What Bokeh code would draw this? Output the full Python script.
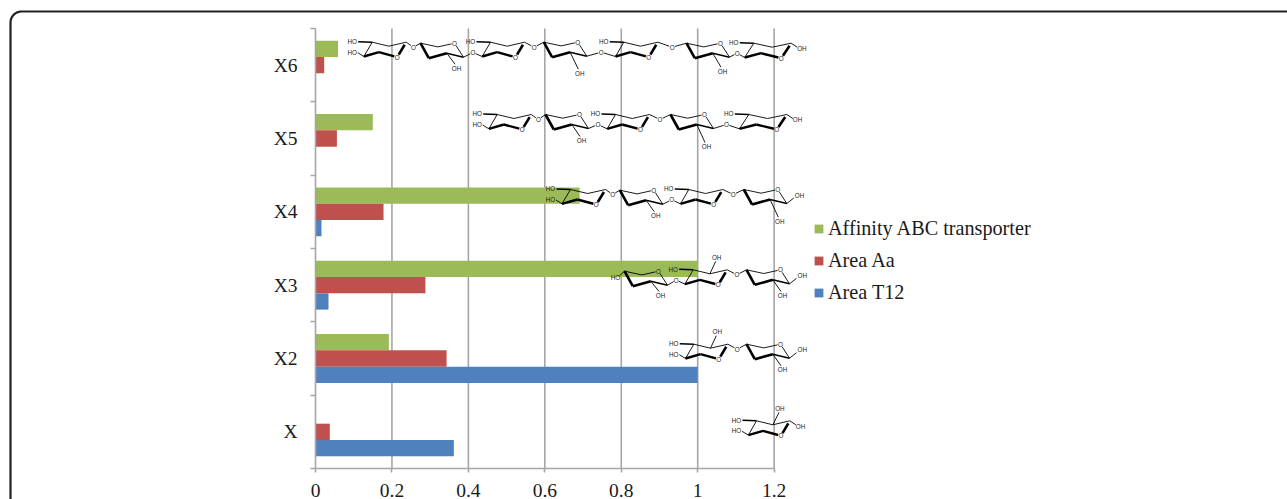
import math
from bokeh.plotting import figure
from bokeh.models import (Range1d, FixedTicker, Legend, LegendItem, ColumnDataSource)
from bokeh.embed import file_html
from bokeh.resources import INLINE
from bokeh.core.properties import value

# ---------- chart data ----------
categories = ["X", "X2", "X3", "X4", "X5", "X6"]
affinity = [0.0, 0.192, 1.0, 0.691, 0.150, 0.059]
area_aa = [0.0375, 0.343, 0.2876, 0.178, 0.056, 0.0227]
area_t12 = [0.362, 1.0, 0.034, 0.0157, 0.0, 0.0]
x_ticks = [0, 0.2, 0.4, 0.6, 0.8, 1, 1.2]
x_tick_labels = ["0", "0.2", "0.4", "0.6", "0.8", "1", "1.2"]

GREEN, RED, BLUE = "#9BBB59", "#C0504D", "#4F81BD"
GRID = "#a6a6a6"
INK = "#1a1a1a"

# ---------- layout of the plot area (page pixels) ----------
W, H = 1287, 499
LEFT, TOP, BOTTOM = 315, 28, 468
PX_PER_X = 382.2
PX_PER_Y = (BOTTOM - TOP) / 6
BAR_H = 16.3 / PX_PER_Y


def xd(px):
    return (px - LEFT) / PX_PER_X


def yd(py):
    return (BOTTOM - py) / PX_PER_Y


p = figure(width=W, height=H, output_backend="svg", toolbar_location=None,
           x_range=Range1d(xd(0), xd(W)), y_range=Range1d(yd(H), yd(0)),
           min_border=0, min_border_left=0, min_border_right=0,
           min_border_top=0, min_border_bottom=0)
p.outline_line_color = None
p.background_fill_color = "white"
p.border_fill_color = "white"

# outer rounded card (open at the right and at the bottom)
CARD_X, CARD_Y, CARD_R = 10, 11, 11
card_px = [(CARD_X, H + 10)]
for k in range(9):
    t = math.pi + k / 8 * math.pi / 2
    card_px.append((CARD_X + CARD_R + CARD_R * math.cos(t),
                    CARD_Y + CARD_R + CARD_R * math.sin(t)))
card_px.append((W, CARD_Y))
p.line([xd(a) for a, _ in card_px], [yd(b) for _, b in card_px],
       line_color="#231f20", line_width=2.2)

# axes
ax = p.xaxis[0]
ax.fixed_location = 0
ax.ticker = FixedTicker(ticks=x_ticks)
ax.major_label_overrides = {t: l for t, l in zip(x_ticks, x_tick_labels)}
ax.bounds = (0, 1.2)
ax.axis_line_color = GRID
ax.axis_line_width = 1.6
ax.major_tick_line_color = GRID
ax.major_tick_line_width = 1.6
ax.major_tick_out = 4
ax.major_tick_in = 0
ax.minor_tick_line_color = None
ax.major_label_text_font = "Liberation Serif"
ax.major_label_text_font_size = "19.5px"
ax.major_label_text_color = INK
ax.major_label_standoff = 11

centers = [i + 0.5 for i in range(len(categories))]
ay = p.yaxis[0]
ay.fixed_location = 0
ay.ticker = FixedTicker(ticks=centers, minor_ticks=list(range(len(categories) + 1)))
ay.major_label_overrides = {c: l for c, l in zip(centers, categories)}
ay.bounds = (0, 6)
ay.axis_line_color = GRID
ay.axis_line_width = 1.6
ay.major_tick_line_color = None
ay.major_tick_out = 0
ay.major_tick_in = 0
ay.minor_tick_line_color = GRID
ay.minor_tick_line_width = 1.6
ay.minor_tick_out = 5
ay.minor_tick_in = 0
ay.major_label_text_font = "Liberation Serif"
ay.major_label_text_font_size = "19.5px"
ay.major_label_text_color = INK
ay.major_label_standoff = 13

# vertical gridlines stop at the axis ends
p.grid.visible = False
grid_xs = x_ticks[1:]
p.segment(x0=grid_xs, x1=grid_xs, y0=[0] * len(grid_xs), y1=[len(categories)] * len(grid_xs),
          line_color=GRID, line_width=1.6)

# bars
r_g = p.hbar(y=[c + BAR_H for c in centers], right=affinity, left=0, height=BAR_H,
             color=GREEN, line_color=None)
r_r = p.hbar(y=centers, right=area_aa, left=0, height=BAR_H,
             color=RED, line_color=None)
r_b = p.hbar(y=[c - BAR_H for c in centers], right=area_t12, left=0, height=BAR_H,
             color=BLUE, line_color=None)

legend = Legend(items=[LegendItem(label="Affinity ABC transporter", renderers=[r_g]),
                       LegendItem(label="Area Aa", renderers=[r_r]),
                       LegendItem(label="Area T12", renderers=[r_b])],
                location=(813, 195), orientation="vertical",
                glyph_width=11, glyph_height=11, label_height=20, spacing=9,
                padding=0, margin=0, label_standoff=4,
                border_line_color=None, background_fill_alpha=0,
                label_text_font="Liberation Serif", label_text_font_size="20.2px",
                label_text_color=INK)
p.add_layout(legend)

# ---------- sugar structure drawings (residue kind, page px anchor, features) ----------
structures = [
    [("A", 756.0, 420.3, dict(top=1, left=1, up=1, right=1, s=0.98))],
    [("A", 693.3, 343.7, dict(top=1, left=1, up=1)),
     ("B", 746.0, 343.7, dict(down=25.6, right=1))],
    [("B", 624.0, 270.7, dict(ho=1, down=24.3)),
     ("A", 692.7, 269.3, dict(top=1, up=1)),
     ("B", 746.0, 269.3, dict(down=25.7, right=1))],
    [("A", 570.0, 189.0, dict(top=1, left=1, s=1.03)),
     ("B", 619.3, 189.7, dict(down=25.6)),
     ("A", 688.3, 189.0, dict(top=1)),
     ("B", 743.3, 189.0, dict(down=31.7, right=1))],
    [("A", 496.7, 114.0, dict(top=1, left=1)),
     ("B", 545.0, 114.0, dict(down=26)),
     ("A", 615.0, 114.0, dict(top=1)),
     ("B", 670.0, 114.0, dict(down=32)),
     ("A", 748.3, 114.0, dict(top=1, right=1, s=1.12))],
    [("A", 371.7, 41.7, dict(top=1, left=1)),
     ("B", 420.0, 42.7, dict(down=25)),
     ("A", 490.0, 41.7, dict(top=1)),
     ("B", 543.3, 41.7, dict(down=31)),
     ("A", 623.3, 41.7, dict(top=1)),
     ("B", 686.0, 42.7, dict(down=28)),
     ("A", 753.3, 42.7, dict(top=1, right=1, s=1.1))],
]

seg_x, seg_y, seg_w, txt_x, txt_y, txt = [], [], [], [], [], []


def trim(a, b, ta=0.0, tb=0.0):
    dx, dy = b[0] - a[0], b[1] - a[1]
    n = (dx * dx + dy * dy) ** 0.5 or 1
    return ((a[0] + dx * ta / n, a[1] + dy * ta / n),
            (b[0] - dx * tb / n, b[1] - dy * tb / n))


def seg(a, b, w=0.9, ta=0.0, tb=0.0):
    a, b = trim(a, b, ta, tb)
    seg_x.append([xd(a[0]), xd(b[0])])
    seg_y.append([yd(a[1]), yd(b[1])])
    seg_w.append(w)


def label(pt, s):
    txt_x.append(xd(pt[0]))
    txt_y.append(yd(pt[1]))
    txt.append(s)


def draw_A(x0, y0, f):
    s = f.get("s", 1.0)
    P = lambda dx, dy: (x0 + dx * s, y0 + dy)
    a, b, c, o, d, e = P(0, 0), P(16.7, 4), P(34, 0), P(25, 15), P(6.7, 10), P(-8.3, 14.3)
    seg(a, b)
    seg(b, c)
    seg(e, a)
    seg(c, o, 2.6, 3, 3)
    seg(o, d, 2.4, 3)
    seg(d, e, 2.4)
    label(o, "O")
    if f.get("top"):
        seg((x0 - 14, y0 - 0.5), a, 1.4)
        label((x0 - 20, y0 - 0.8), "HO")
    if f.get("left"):
        seg((x0 - 14.5, y0 + 10.5), e, 0.9)
        label((x0 - 20, y0 + 10), "HO")
    if f.get("up"):
        seg(b, (x0 + 22.5, y0 - 8.5))
        label((x0 + 23.4, y0 - 12.4), "OH")
    if f.get("right"):
        seg(c, (c[0] + 6, c[1] + 4))
        label((c[0] + 10.7, c[1] + 5.4), "OH")
    return c, e


def draw_B(x0, y0, f):
    P = lambda dx, dy: (x0 + dx, y0 + dy)
    a, g, o, h, i, j = P(0, 0), P(17.3, 3.7), P(34, 0), P(43, 14), P(26.3, 10), P(8.3, 15)
    seg(a, g)
    seg(g, o, 0.9, 0, 3)
    seg(o, h, 0.9, 3)
    seg(h, i, 1.5)
    seg(i, j, 2.6)
    seg(j, a, 2.6)
    label(o, "O")
    if f.get("down"):
        seg(i, (x0 + 34.5, y0 + f["down"] - 4))
        label((x0 + 36, y0 + f["down"]), "OH")
    if f.get("right"):
        seg(h, (x0 + 50, y0 + 8.5))
        label((x0 + 55.7, y0 + 5.6), "OH")
    if f.get("ho"):
        seg(a, (x0 - 5, y0 + 4.5))
        label((x0 - 9, y0 + 6.6), "HO")
    return a, h


for chain in structures:
    prev = None
    for kind, x0, y0, feat in chain:
        if kind == "A":
            c, e = draw_A(x0, y0, feat)
            if prev is not None:   # B -> A link through the oxygen
                o = ((prev[0] + e[0]) / 2, min(prev[1], e[1]) - 4)
                seg(prev, o, 0.9, 0, 3)
                seg(o, e, 0.9, 3)
                label(o, "O")
            prev = c
        else:
            f0, h = draw_B(x0, y0, feat)
            if prev is not None:   # A -> B link through the oxygen
                o = ((prev[0] + f0[0]) / 2, min(prev[1], f0[1]) + 5)
                seg(prev, o, 0.9, 0, 3)
                seg(o, f0, 0.9, 3)
                label(o, "O")
            prev = h

p.multi_line(xs="x", ys="y", line_width="w", line_color="black",
             source=ColumnDataSource(dict(x=seg_x, y=seg_y, w=seg_w)))
p.text(x=txt_x, y=txt_y, text=txt, text_font=value("Liberation Sans"),
       text_font_size=value("6.3px"), text_color="#222222",
       text_align="center", text_baseline="middle")

open("out.html", "w").write(file_html(p, INLINE))
